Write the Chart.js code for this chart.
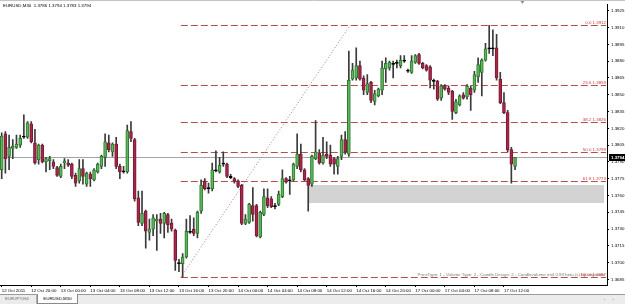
<!DOCTYPE html>
<html><head><meta charset="utf-8">
<script src="https://cdn.jsdelivr.net/npm/chart.js@4.4.1/dist/chart.umd.min.js"></script>
<style>
html,body{margin:0;padding:0;background:#fff;width:625px;height:304px;overflow:hidden;font-family:"Liberation Sans",Arial,sans-serif;}
#wrap{position:relative;width:625px;height:294px;}
#tabs{position:relative;width:625px;height:10px;background:#ececec;border-top:1px solid #9a9a9a;box-sizing:border-box;font-size:4.4px;line-height:9px;}
#tabs .t{position:absolute;top:-1px;height:10px;box-sizing:border-box;}
#tab1{left:0;width:37px;color:#707070;padding-left:5px;border-right:1px solid #b0b0b0;}
#tab2{left:37px;width:41px;background:#fff;color:#000;border:1px solid #8a8a8a;border-top:none;text-align:center;}
#arr{position:absolute;right:8px;top:0;color:#808080;letter-spacing:3px;}
</style></head>
<body>
<div id="wrap"><canvas id="c" width="625" height="294"></canvas></div>
<div id="tabs"><span class="t" id="tab1">EURJPY,H4</span><span class="t" id="tab2">EURUSD,M30</span><span id="arr">‹ ›</span></div>
<script>
// ---- data (EURUSD M30, bars from 12 Oct 16:00 to 17 Oct 13:30) ----
const symbolName = "EURUSD,M30";
const openPrices = [1.3783,1.3815,1.3795,1.3802,1.3803,1.3805,1.3812,1.3812,1.3824,1.3807,
1.3792,1.3805,1.3790,1.3791,1.3790,1.3785,1.3777,1.3789,1.3789,1.3788,
1.3778,1.3773,1.3784,1.3770,1.3779,1.3774,1.3781,1.3786,1.3794,1.3807,
1.3799,1.3806,1.3786,1.3781,1.3781,1.3817,1.3810,1.3758,1.3735,1.3746,
1.3727,1.3730,1.3737,1.3739,1.3735,1.3743,1.3735,1.3729,1.3700,1.3699,
1.3705,1.3727,1.3730,1.3726,1.3746,1.3773,1.3767,1.3766,1.3782,1.3781,
1.3788,1.3788,1.3777,1.3775,1.3773,1.3769,1.3735,1.3736,1.3751,1.3751,
1.3723,1.3743,1.3758,1.3757,1.3751,1.3752,1.3759,1.3775,1.3773,1.3774,
1.3786,1.3797,1.3783,1.3775,1.3770,1.3793,1.3798,1.3789,1.3797,1.3796,
1.3793,1.3786,1.3795,1.3810,1.3797,1.3864,1.3865,1.3876,1.3865,1.3852,
1.3861,1.3844,1.3849,1.3854,1.3873,1.3874,1.3877,1.3878,1.3876,1.3880,
1.3871,1.3870,1.3879,1.3886,1.3878,1.3876,1.3875,1.3863,1.3862,1.3847,
1.3858,1.3856,1.3853,1.3834,1.3841,1.3850,1.3848,1.3856,1.3854,1.3866,
1.3870,1.3881,1.3891,1.3892,1.3892,1.3864,1.3843,1.3834,1.3801,1.3786];
const highPrices = [1.3816,1.3817,1.3814,1.3810,1.3814,1.3814,1.3832,1.3826,1.3826,1.3819,
1.3806,1.3806,1.3794,1.3795,1.3792,1.3786,1.3788,1.3793,1.3792,1.3789,
1.3780,1.3792,1.3792,1.3781,1.3781,1.3784,1.3789,1.3796,1.3815,1.3814,
1.3807,1.3812,1.3788,1.3786,1.3823,1.3826,1.3811,1.3764,1.3764,1.3747,
1.3739,1.3743,1.3743,1.3744,1.3745,1.3744,1.3739,1.3730,1.3703,1.3708,
1.3739,1.3742,1.3740,1.3746,1.3774,1.3775,1.3771,1.3789,1.3800,1.3794,
1.3799,1.3789,1.3779,1.3776,1.3774,1.3770,1.3743,1.3753,1.3767,1.3752,
1.3746,1.3766,1.3766,1.3759,1.3753,1.3764,1.3783,1.3776,1.3777,1.3789,
1.3815,1.3806,1.3784,1.3776,1.3796,1.3827,1.3801,1.3812,1.3808,1.3805,
1.3794,1.3795,1.3814,1.3817,1.3889,1.3878,1.3892,1.3880,1.3867,1.3868,
1.3862,1.3854,1.3856,1.3880,1.3883,1.3880,1.3880,1.3881,1.3885,1.3885,
1.3873,1.3885,1.3886,1.3887,1.3879,1.3877,1.3876,1.3864,1.3863,1.3859,
1.3859,1.3858,1.3854,1.3846,1.3850,1.3852,1.3859,1.3858,1.3871,1.3883,
1.3882,1.3896,1.3912,1.3908,1.3904,1.3870,1.3852,1.3836,1.3803,1.3794];
const lowPrices = [1.3775,1.3780,1.3783,1.3793,1.3802,1.3803,1.3811,1.3811,1.3807,1.3788,
1.3788,1.3789,1.3781,1.3783,1.3784,1.3777,1.3776,1.3784,1.3786,1.3775,
1.3768,1.3771,1.3770,1.3768,1.3768,1.3773,1.3780,1.3784,1.3786,1.3799,
1.3795,1.3784,1.3775,1.3780,1.3780,1.3808,1.3755,1.3733,1.3733,1.3713,
1.3720,1.3724,1.3711,1.3726,1.3722,1.3727,1.3728,1.3693,1.3692,1.3687,
1.3704,1.3726,1.3724,1.3722,1.3744,1.3765,1.3762,1.3764,1.3781,1.3780,
1.3786,1.3776,1.3775,1.3771,1.3767,1.3734,1.3734,1.3735,1.3737,1.3723,
1.3722,1.3742,1.3749,1.3749,1.3748,1.3751,1.3758,1.3771,1.3761,1.3773,
1.3784,1.3781,1.3773,1.3746,1.3768,1.3792,1.3788,1.3788,1.3793,1.3786,
1.3779,1.3779,1.3792,1.3797,1.3795,1.3863,1.3863,1.3863,1.3850,1.3850,
1.3843,1.3841,1.3848,1.3850,1.3861,1.3872,1.3865,1.3874,1.3874,1.3879,
1.3870,1.3869,1.3878,1.3877,1.3873,1.3871,1.3856,1.3855,1.3845,1.3845,
1.3854,1.3850,1.3828,1.3833,1.3840,1.3846,1.3846,1.3836,1.3852,1.3861,
1.3849,1.3880,1.3887,1.3885,1.3863,1.3842,1.3833,1.3799,1.3771,1.3783];
const closePrices = [1.3813,1.3793,1.3803,1.3804,1.3806,1.3811,1.3813,1.3825,1.3808,1.3789,
1.3805,1.3790,1.3793,1.3793,1.3786,1.3778,1.3786,1.3791,1.3787,1.3777,
1.3771,1.3784,1.3777,1.3780,1.3775,1.3783,1.3788,1.3795,1.3808,1.3801,
1.3806,1.3786,1.3781,1.3782,1.3818,1.3811,1.3757,1.3736,1.3744,1.3728,
1.3730,1.3740,1.3739,1.3735,1.3744,1.3734,1.3730,1.3702,1.3699,1.3705,
1.3728,1.3728,1.3726,1.3745,1.3769,1.3766,1.3766,1.3783,1.3783,1.3787,
1.3789,1.3777,1.3776,1.3773,1.3768,1.3735,1.3739,1.3752,1.3743,1.3724,
1.3745,1.3759,1.3751,1.3750,1.3750,1.3761,1.3775,1.3772,1.3774,1.3788,
1.3797,1.3783,1.3774,1.3769,1.3795,1.3799,1.3789,1.3796,1.3795,1.3788,
1.3788,1.3793,1.3810,1.3799,1.3863,1.3872,1.3876,1.3864,1.3854,1.3860,
1.3845,1.3851,1.3855,1.3874,1.3878,1.3879,1.3878,1.3879,1.3881,1.3880,
1.3871,1.3880,1.3885,1.3878,1.3874,1.3872,1.3863,1.3862,1.3846,1.3858,
1.3855,1.3852,1.3835,1.3844,1.3849,1.3847,1.3858,1.3850,1.3868,1.3877,
1.3881,1.3891,1.3892,1.3891,1.3865,1.3843,1.3834,1.3801,1.3788,1.3794];
const xTickIndex = [0,8,16,24,32,40,48,56,64,72,80,88,96,104,112,120,128,136];
const xTickLabels = ["12 Oct 2011","12 Oct 20:00","13 Oct 00:00","13 Oct 04:00","13 Oct 08:00","13 Oct 12:00","13 Oct 16:00","13 Oct 20:00","14 Oct 00:00","14 Oct 04:00","14 Oct 08:00","14 Oct 12:00","14 Oct 16:00","14 Oct 20:00","17 Oct 00:00","17 Oct 04:00","17 Oct 08:00","17 Oct 12:00"];
const yTickValues = [1.3925,1.3910,1.3895,1.3880,1.3865,1.3850,1.3835,1.3820,1.3805,1.3790,1.3775,1.3760,1.3745,1.3730,1.3715,1.3700,1.3685];
const fibLabels = ["0.0 1.3912","23.6 1.3859","38.2 1.3826","50.0 1.3799","61.8 1.3773","100.0 1.3687"];
const fibPrices = [1.3912,1.3859,1.3826,1.3799,1.3773,1.3687];
const fibTrendIndex = [48.5, 94.3];
const fibTrendPrice = [1.3687, 1.3912];
const zoneIndex = [82.9, 163.1];
const zonePrice = [1.3769, 1.3753];
const footerText = "PriceType: 1 - Volume Type: 2 - Candle Design: 2 - Candlevolume mt4 0.93 beta (c) by engmatix";

Chart.defaults.font.family = '"Liberation Sans", Arial, sans-serif';
Chart.defaults.font.size = 4.4;
Chart.defaults.color = '#000';

const last = closePrices.length - 1;
const isDoji = i => Math.abs(openPrices[i] - closePrices[i]) < 0.00015;
const bodyFill = openPrices.map((o, i) => isDoji(i) ? '#000' : (closePrices[i] > o ? '#5fb55f' : '#a5284a'));
const bodyEdge = openPrices.map((o, i) => isDoji(i) ? '#000' : (closePrices[i] > o ? '#2a7a2a' : '#7c1833'));

const overlay = {
  id: 'overlay',
  beforeDatasetsDraw(chart) {
    const {ctx, chartArea: a, scales: {x, y}} = chart;
    ctx.save();
    ctx.strokeStyle = '#c4c4c4'; ctx.lineWidth = 1;
    ctx.beginPath(); ctx.moveTo(0, 0.5); ctx.lineTo(625, 0.5); ctx.stroke();
    const rx0 = x.getPixelForValue(zoneIndex[0]), rx1 = x.getPixelForValue(zoneIndex[1]);
    const ry0 = y.getPixelForValue(zonePrice[0]), ry1 = y.getPixelForValue(zonePrice[1]);
    ctx.fillStyle = '#d3d3d3';
    ctx.fillRect(Math.round(rx0), Math.round(ry0), Math.round(rx1 - rx0), Math.round(ry1 - ry0));
    const cy = Math.round(y.getPixelForValue(closePrices[last])) + 0.5;
    ctx.strokeStyle = '#a4a4a4';
    ctx.beginPath(); ctx.moveTo(a.left, cy); ctx.lineTo(a.right, cy); ctx.stroke();
    const fx0 = x.getPixelForValue(fibTrendIndex[0]);
    ctx.strokeStyle = '#b34e4e'; ctx.setLineDash([7, 3]);
    fibPrices.forEach(p => {
      const py = Math.round(y.getPixelForValue(p)) + 0.5;
      ctx.beginPath(); ctx.moveTo(fx0, py); ctx.lineTo(a.right - 1, py); ctx.stroke();
    });
    ctx.strokeStyle = '#c27272'; ctx.setLineDash([1, 2]);
    ctx.beginPath();
    ctx.moveTo(x.getPixelForValue(fibTrendIndex[0]), y.getPixelForValue(fibTrendPrice[0]));
    ctx.lineTo(x.getPixelForValue(fibTrendIndex[1]), y.getPixelForValue(fibTrendPrice[1]));
    ctx.stroke();
    ctx.restore();
  },
  afterDatasetsDraw(chart) {
    const {ctx, chartArea: a, scales: {x, y}} = chart;
    ctx.save();
    ctx.font = '4.4px "Liberation Sans", Arial, sans-serif';
    ctx.fillStyle = '#7a7a7a'; ctx.textAlign = 'right'; ctx.textBaseline = 'middle';
    ctx.fillText(footerText, a.right - 2, y.getPixelForValue(1.36895));
    ctx.fillStyle = '#cc3c3c'; ctx.textBaseline = 'bottom';
    fibPrices.forEach((p, k) => {
      ctx.fillText(fibLabels[k], a.right - 1, Math.round(y.getPixelForValue(p)) - 0.5);
    });
    ctx.fillStyle = '#000'; ctx.textAlign = 'left'; ctx.textBaseline = 'middle';
    const t = symbolName + '  ' + [openPrices[last], highPrices[last], lowPrices[last], closePrices[last]].map(v => v.toFixed(4)).join(' ');
    ctx.fillText(t, 3, 5.5);
    ctx.restore();
  },
  afterDraw(chart) {
    const {ctx, chartArea: a, scales: {x, y}} = chart;
    ctx.save();
    const sx = x.getPixelForValue(141);
    ctx.fillStyle = '#909090';
    ctx.beginPath(); ctx.moveTo(sx - 2, 1); ctx.lineTo(sx + 2, 1); ctx.lineTo(sx, 4); ctx.closePath(); ctx.fill();
    const cy = Math.round(y.getPixelForValue(closePrices[last]));
    ctx.fillStyle = '#000';
    ctx.fillRect(a.right + 2, cy - 3, 625 - a.right - 2, 7);
    ctx.fillStyle = '#fff';
    ctx.font = 'bold 4.4px "Liberation Sans", Arial, sans-serif';
    ctx.textAlign = 'left'; ctx.textBaseline = 'middle';
    ctx.fillText(closePrices[last].toFixed(4), a.right + 4, cy + 0.5);
    ctx.restore();
  }
};

new Chart(document.getElementById('c'), {
  type: 'bar',
  data: {
    datasets: [
      {label: 'body', data: openPrices.map((o, i) => ({x: i, y: [o, closePrices[i]]})),
       backgroundColor: bodyFill, borderColor: bodyEdge, borderWidth: 1, borderSkipped: false,
       barThickness: 3, grouped: false, minBarLength: 1},
      {label: 'wick', data: lowPrices.map((l, i) => ({x: i, y: [l, highPrices[i]]})),
       backgroundColor: '#3a3a3a', borderWidth: 0, barThickness: 1, grouped: false}
    ]
  },
  options: {
    responsive: false, animation: false, devicePixelRatio: 1,
    layout: {padding: {top: 1, left: 0, right: 0, bottom: 0}},
    plugins: {legend: {display: false}, tooltip: {enabled: false}},
    scales: {
      x: {
        type: 'linear', min: -0.46, max: 163.9, offset: false, bounds: 'data',
        afterBuildTicks: s => { s.ticks = xTickIndex.map(v => ({value: v})); },
        afterFit: s => { s.height = 9; },
        ticks: {align: 'start', autoSkip: false, maxRotation: 0, minRotation: 0, padding: 1, color: '#000',
                font: {size: 4.4}, callback: v => { const k = xTickIndex.indexOf(v); return k >= 0 ? xTickLabels[k] : ''; }},
        grid: {drawOnChartArea: false, drawTicks: true, tickLength: 2, color: '#000', offset: false},
        border: {display: true, color: '#000', width: 1}
      },
      y: {
        type: 'linear', position: 'right', min: 1.3680, max: 1.393053, bounds: 'data', beginAtZero: false,
        afterBuildTicks: s => { s.ticks = yTickValues.map(v => ({value: v})); },
        afterFit: s => { s.width = 18; },
        ticks: {padding: 2, color: '#000', font: {size: 4.4}, callback: v => Number(v).toFixed(4)},
        grid: {drawOnChartArea: false, drawTicks: true, tickLength: 2, color: '#000'},
        border: {display: true, color: '#000', width: 1}
      }
    }
  },
  plugins: [overlay]
});
</script>
</body></html>
